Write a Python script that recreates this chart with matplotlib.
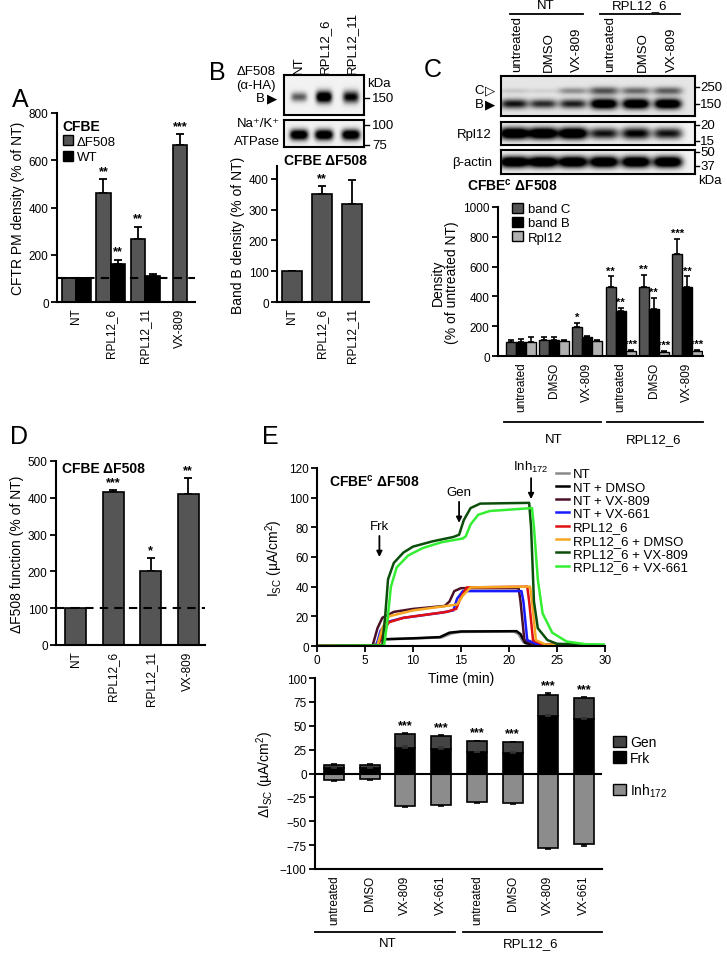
import matplotlib
matplotlib.use("Agg")
import matplotlib.pyplot as plt
import numpy as np
from matplotlib.patches import Patch
from matplotlib.lines import Line2D

plt.rcParams['font.family'] = ['Liberation Sans', 'DejaVu Sans']
plt.rcParams['mathtext.fontset'] = 'custom'
plt.rcParams['mathtext.rm'] = 'Liberation Sans'
plt.rcParams['mathtext.it'] = 'Liberation Sans:italic'
plt.rcParams['mathtext.bf'] = 'Liberation Sans:bold'

# ---------------- data ----------------
# panel A
a_groups = ['NT', 'RPL12_6', 'RPL12_11', 'VX-809']
a_df508 = [100, 460, 265, 665]
a_df508_err = [0, 60, 53, 45]
a_df508_sig = ['', '**', '**', '***']
a_wt = [100, 160, 110]
a_wt_err = [0, 18, 8]
a_wt_sig = ['', '**', '']

# panel B
b_lanes = ['NT', 'RPL12_6', 'RPL12_11']
b_vals = [100, 350, 320]
b_err = [0, 28, 75]
b_sig = ['', '**', '']
b_band_b = [0.6, 1.3, 1.0]
b_atpase = [1.3, 1.3, 1.3]

# panel C
c_lanes = ['untreated', 'DMSO', 'VX-809', 'untreated', 'DMSO', 'VX-809']
c_band_c = [95, 110, 195, 465, 465, 685]
c_band_c_err = [10, 15, 27, 70, 80, 100]
c_band_c_sig = ['', '', '*', '**', '**', '***']
c_band_b = [95, 105, 130, 300, 315, 465]
c_band_b_err = [20, 20, 5, 25, 75, 70]
c_band_b_sig = ['', '', '', '**', '**', '**']
c_rpl12 = [95, 100, 100, 35, 30, 35]
c_rpl12_err = [30, 5, 5, 5, 5, 5]
c_rpl12_sig = ['', '', '', '***', '***', '***']
c_blot_c = [0.12, 0.08, 0.35, 0.6, 0.5, 0.55]
c_blot_b = [0.85, 0.75, 0.8, 1.3, 1.3, 1.3]
c_blot_rpl = [1.4, 1.4, 1.4, 0.9, 1.0, 0.9]
c_blot_actin = [1.4, 1.4, 1.4, 1.4, 1.4, 1.4]

# panel D
d_groups = ['NT', 'RPL12_6', 'RPL12_11', 'VX-809']
d_vals = [100, 415, 202, 410]
d_err = [0, 7, 35, 45]
d_sig = ['', '***', '*', '**']

# panel E traces (time in min, Isc in uA/cm2)
e_names = ['NT', 'NT + DMSO', 'NT + VX-809', 'NT + VX-661', 'RPL12_6',
           'RPL12_6 + DMSO', 'RPL12_6 + VX-809', 'RPL12_6 + VX-661']
e_colors = ['#8a8a8a', '#000000', '#4a1028', '#1a1aff', '#e01010',
            '#f5a623', '#0b4d0b', '#33ee33']
nt_t = [0, 6.0, 6.4, 7, 10, 13, 14, 15, 20.5, 21.0, 21.5, 22.5, 30]
nt_y = [0, 0.3, 3.5, 4.5, 5, 5.8, 8.5, 9.5, 9.8, 8, 2.5, 0.5, 0.2]
ntd_t = [0, 6.2, 6.6, 7.2, 10, 12.8, 13.8, 15, 20.8, 21.2, 21.7, 23, 30]
ntd_y = [0, 0.3, 4, 4.6, 5.2, 6, 9, 9.8, 10, 8, 2, 0.5, 0.2]
nt809_t = [0, 5.8, 6.3, 6.8, 8, 10, 13.3, 13.8, 14.3, 15, 21.0, 21.2, 21.6, 22.5, 30]
nt809_y = [0, 0.5, 12, 19, 23, 25, 27, 30, 37, 39, 39, 30, 4, 1, 0.3]
nt661_t = [0, 6.2, 6.6, 7.2, 9, 13, 14.2, 14.6, 15.2, 21.3, 21.5, 21.9, 23, 30]
nt661_y = [0, 0.5, 10, 16, 19, 22.5, 24, 32, 37, 37, 30, 4, 1, 0.3]
rpl_t = [0, 6.4, 6.9, 7.5, 9, 13.5, 14.5, 15, 15.6, 21.9, 22.1, 22.5, 23.5, 30]
rpl_y = [0, 0.5, 10, 16, 19, 23, 25, 33, 39.5, 40, 30, 4, 1, 0.3]
rpld_t = [0, 6.3, 6.8, 7.5, 10, 13.5, 14.6, 15.2, 16, 22.2, 22.4, 22.8, 23.8, 30]
rpld_y = [0, 0.5, 12, 20, 24, 27, 28, 34, 39.5, 40, 30, 4, 1, 0.3]
rpl809_t = [0, 6.8, 7.1, 7.4, 8, 9, 10, 12, 14.2, 14.8, 15.3, 16, 17, 22.1, 22.3, 22.6, 23, 24, 25, 30]
rpl809_y = [0, 0.5, 20, 45, 56, 63, 67, 70.5, 73.5, 75, 85, 93, 96, 96.5, 80, 30, 12, 4, 1.5, 0.5]
rpl661_t = [0, 7.0, 7.3, 7.7, 8.3, 9.5, 11, 13, 15.2, 15.5, 16, 16.8, 18, 22.4, 22.6, 23, 23.5, 24.5, 26, 28, 30]
rpl661_y = [0, 0.3, 15, 40, 53, 61, 66, 70, 72.5, 74, 82, 88.5, 91, 93, 80, 45, 22, 9, 3, 1.2, 1]
e_traces = [(nt_t, nt_y), (ntd_t, ntd_y), (nt809_t, nt809_y), (nt661_t, nt661_y),
            (rpl_t, rpl_y), (rpld_t, rpld_y), (rpl809_t, rpl809_y), (rpl661_t, rpl661_y)]
e_events = ['Frk', 'Gen', 'Inh$_{172}$']
e_event_t = [6.5, 14.8, 22.3]
e_event_y = [60, 83, 99]

# panel E bars
e_groups = ['untreated', 'DMSO', 'VX-809', 'VX-661'] * 2
e_frk = [6, 6, 27, 26, 22, 21, 60, 57]
e_frk_err = [1, 1, 2, 2, 1, 1, 1, 1]
e_gen = [3, 3, 14, 13, 12, 12, 22, 22]
e_tot_err = [0.5, 0.5, 1, 1, 0.5, 0.5, 2, 1.5]
e_inh = [-7, -6, -34, -33, -30, -31, -78, -74]
e_inh_err = [1, 1, 1.5, 1.5, 0.5, 0.5, 1.5, 1.5]
e_sig = ['', '', '***', '***', '***', '***', '***', '***']

# ---------------- figure ----------------
W, H = 727, 954
fig = plt.figure(figsize=(W / 100, H / 100), dpi=100)

DARK = '#555555'
MID = '#8c8c8c'
LIGHT = '#b0b0b0'
TICK = 8.5


def ax_px(l, t, r, b):
    a = fig.add_axes([l / W, 1 - b / H, (r - l) / W, (b - t) / H])
    a.patch.set_visible(False)
    return a


def ft(x, y, s, **kw):
    kw.setdefault('ha', 'left')
    kw.setdefault('va', 'center')
    fig.text(x / W, 1 - y / H, s, **kw)


def style_bar_axes(ax):
    for s in ['top', 'right']:
        ax.spines[s].set_visible(False)
    for s in ['left', 'bottom']:
        ax.spines[s].set_linewidth(1.5)
    ax.tick_params(axis='y', direction='out', length=4, width=1.3, labelsize=TICK, pad=2)
    ax.tick_params(axis='x', length=0, labelsize=TICK, pad=4)


def stars(ax, x, top, s, size=9):
    if s:
        ax.text(x, top, s, ha='center', va='bottom', fontsize=size, fontweight='bold')


def draw_blot(ax, lanes, bands, bg=0.95):
    h, w = 60, 300
    yy, xx = np.mgrid[0:1:h * 1j, 0:1:w * 1j]
    img = np.full((h, w), bg)
    for yc, sy, ints, sx in bands:
        for x0, a in zip(lanes, ints):
            th = sy * (0.45 + 0.55 * min(a, 1.0))
            img -= a * np.exp(-((xx - x0) / sx) ** 4) * np.exp(-((yy - yc) / th) ** 2)
    ax.imshow(np.clip(img, 0, 1), cmap='gray', vmin=0, vmax=1,
              extent=[0, 1, 0, 1], aspect='auto', origin='upper', interpolation='bilinear')
    ax.set_xticks([])
    ax.set_yticks([])
    for s in ax.spines.values():
        s.set_linewidth(1.5)


# ---------- panel A ----------
ft(12, 100, 'A', fontsize=18)
ax = ax_px(57, 114, 195, 303)
style_bar_axes(ax)
xa = np.arange(len(a_groups))
bw = 0.42
xd = xa.astype(float)
xd[:3] -= bw / 2
ax.bar(xd, a_df508, bw, color=DARK, edgecolor='black', linewidth=1.2, zorder=2)
ax.errorbar(xd, a_df508, yerr=[np.zeros(4), a_df508_err], fmt='none', ecolor='black',
            elinewidth=1.3, capsize=3, capthick=1.3, zorder=1)
xw = xa[:3] + bw / 2
ax.bar(xw, a_wt, bw, color='black', edgecolor='black', linewidth=1.2, zorder=2)
ax.errorbar(xw, a_wt, yerr=[np.zeros(3), a_wt_err], fmt='none', ecolor='black',
            elinewidth=1.3, capsize=3, capthick=1.3, zorder=1)
for x, v, e, s in zip(xd, a_df508, a_df508_err, a_df508_sig):
    stars(ax, x, v + e + 10, s)
for x, v, e, s in zip(xw, a_wt, a_wt_err, a_wt_sig):
    stars(ax, x, v + e + 10, s)
ax.axhline(100, color='black', ls=(0, (4, 3)), lw=1.5, zorder=3)
ax.set_xlim(-0.55, 3.43)
ax.set_ylim(0, 800)
ax.set_yticks([0, 200, 400, 600, 800])
ax.set_xticks(xa)
ax.set_xticklabels(a_groups, rotation=90)
ax.set_ylabel('CFTR PM density (% of NT)', fontsize=10, labelpad=3)
leg = ax.legend(handles=[Patch(facecolor=DARK, edgecolor='black', label='\u0394F508'),
                         Patch(facecolor='black', edgecolor='black', label='WT')],
                title='CFBE', loc='upper left', bbox_to_anchor=(0.04, 0.97), frameon=False,
                fontsize=9.5, handlelength=0.8, handleheight=0.8, handletextpad=0.3,
                labelspacing=0.2, borderpad=0, borderaxespad=0)
leg.get_title().set_fontweight('bold')
leg.get_title().set_fontsize(10)
leg._legend_box.align = 'left'

# ---------- panel B ----------
ft(209, 73, 'B', fontsize=18)
bx1 = ax_px(284, 76, 364, 116)
lanes_b = [(299 - 284) / 80, (324 - 284) / 80, (351 - 284) / 80]
draw_blot(bx1, lanes_b, [(0.55, 0.15, b_band_b, 0.1)])
bx2 = ax_px(284, 121, 364, 148)
draw_blot(bx2, lanes_b, [(0.55, 0.2, b_atpase, 0.115)])
for lx, lab in zip([299, 325, 352], b_lanes):
    ft(lx, 74, lab, rotation=90, ha='center', va='bottom', fontsize=9.5)
ft(276, 72, '\u0394F508', ha='right', fontsize=9.5)
ft(276, 86, '(\u03b1-HA)', ha='right', fontsize=9.5)
ft(265, 99, 'B', ha='right', fontsize=9.5)
ft(267, 99, '\u25b6', ha='left', fontsize=9.5)
ft(280, 124, 'Na\u207a/K\u207a', ha='right', fontsize=9.5)
ft(280, 142, 'ATPase', ha='right', fontsize=9.5)
ft(367, 84, 'kDa', fontsize=9.5)
for yy_, lab in [(99, '150'), (126, '100'), (146, '75')]:
    ft(372, yy_, lab, fontsize=9.5)
    fig.add_artist(Line2D([364 / W, 369 / W], [1 - yy_ / H, 1 - yy_ / H], color='black', lw=1))
ax = ax_px(277, 167, 369, 303)
style_bar_axes(ax)
xb = np.arange(len(b_lanes))
ax.bar(xb, b_vals, 0.65, color=DARK, edgecolor='black', linewidth=1.2, zorder=2)
ax.errorbar(xb, b_vals, yerr=[np.zeros(3), b_err], fmt='none', ecolor='black',
            elinewidth=1.3, capsize=3, capthick=1.3, zorder=1)
for x, v, e, s in zip(xb, b_vals, b_err, b_sig):
    stars(ax, x, v + e + 5, s)
ax.set_xlim(-0.5, 2.57)
ax.set_ylim(0, 442)
ax.set_yticks([0, 100, 200, 300, 400])
ax.set_xticks(xb)
ax.set_xticklabels(b_lanes, rotation=90)
ax.set_ylabel('Band B density (% of NT)', fontsize=10, labelpad=3)
ft(325, 161, 'CFBE \u0394F508', ha='center', fontsize=10, fontweight='bold')

# ---------- panel C ----------
ft(424, 70, 'C', fontsize=18)
lanes_c = [(x - 501) / 194 for x in [514, 543, 573, 604, 636, 668]]
cx1 = ax_px(501, 77, 695, 117)
draw_blot(cx1, lanes_c, [(0.7, 0.13, c_blot_b, 0.07), (0.37, 0.13, c_blot_c, 0.075)], bg=0.9)
cx2 = ax_px(501, 123, 695, 146)
draw_blot(cx2, lanes_c, [(0.5, 0.26, c_blot_rpl, 0.075)])
cx3 = ax_px(501, 151, 695, 175)
draw_blot(cx3, lanes_c, [(0.5, 0.24, c_blot_actin, 0.075)])
for lx, lab in zip([517, 549, 577, 610, 643, 672], c_lanes):
    ft(lx, 72, lab, rotation=90, ha='center', va='bottom', fontsize=9.5)
fig.add_artist(Line2D([510 / W, 583 / W], [1 - 15 / H, 1 - 15 / H], color='black', lw=1.3))
fig.add_artist(Line2D([600 / W, 680 / W], [1 - 15 / H, 1 - 15 / H], color='black', lw=1.3))
ft(546, 6, 'NT', ha='center', fontsize=9.5)
ft(640, 6, 'RPL12_6', ha='center', fontsize=9.5)
ft(484, 91, 'C', ha='right', fontsize=9.5)
ft(485, 91, '\u25b7', fontsize=9.5)
ft(484, 105, 'B', ha='right', fontsize=9.5)
ft(485, 105, '\u25b6', fontsize=9.5)
ft(492, 135, 'Rpl12', ha='right', fontsize=9.5)
ft(492, 163, '\u03b2-actin', ha='right', fontsize=9.5)
for yy_, lab in [(88, '250'), (105, '150'), (126, '20'), (142, '15'), (153, '50'), (167, '37')]:
    ft(700, yy_, lab, fontsize=9.5)
    fig.add_artist(Line2D([695 / W, 699 / W], [1 - yy_ / H, 1 - yy_ / H], color='black', lw=1))
ft(698, 181, 'kDa', fontsize=9.5)
ft(467, 186, 'CFBE$^{\\bf c}$ \u0394F508', fontsize=10, fontweight='bold')

ax = ax_px(498, 208, 703, 357)
style_bar_axes(ax)
xc = np.arange(len(c_lanes))
cw = 0.3
series_c = [(c_band_c, c_band_c_err, c_band_c_sig, DARK, -cw),
            (c_band_b, c_band_b_err, c_band_b_sig, 'black', 0),
            (c_rpl12, c_rpl12_err, c_rpl12_sig, LIGHT, cw)]
for vals, errs, sigs, col, off in series_c:
    ax.bar(xc + off, vals, cw, color=col, edgecolor='black', linewidth=1.0, zorder=2)
    ax.errorbar(xc + off, vals, yerr=[np.zeros(6), errs], fmt='none', ecolor='black',
                elinewidth=1.2, capsize=2.5, capthick=1.2, zorder=1)
    for x, v, e, s in zip(xc + off, vals, errs, sigs):
        stars(ax, x, v + e + 5, s, size=8)
ax.set_xlim(-0.69, 5.48)
ax.set_ylim(0, 1000)
ax.set_yticks([0, 200, 400, 600, 800, 1000])
ax.set_xticks(xc)
ax.set_xticklabels(c_lanes, rotation=90)
ax.set_ylabel('Density\n(% of untreated NT)', fontsize=10, labelpad=3, linespacing=1.0)
ax.legend(handles=[Patch(facecolor=DARK, edgecolor='black', label='band C'),
                   Patch(facecolor='black', edgecolor='black', label='band B'),
                   Patch(facecolor=LIGHT, edgecolor='black', label='Rpl12')],
          loc='upper left', bbox_to_anchor=(0.07, 1.03), frameon=False, fontsize=9.5,
          handlelength=0.8, handleheight=0.8, handletextpad=0.4, labelspacing=0.12,
          borderpad=0, borderaxespad=0)
tr = ax.get_xaxis_transform()
ax.plot([-0.5, 2.4], [-0.44, -0.44], color='black', lw=1.3, transform=tr, clip_on=False)
ax.plot([2.6, 5.48], [-0.44, -0.44], color='black', lw=1.3, transform=tr, clip_on=False)
ax.text(1.0, -0.52, 'NT', transform=tr, ha='center', va='top', fontsize=9.5)
ax.text(4.0, -0.52, 'RPL12_6', transform=tr, ha='center', va='top', fontsize=9.5)

# ---------- panel D ----------
ft(10, 437, 'D', fontsize=18)
ax = ax_px(56, 462, 205, 646)
style_bar_axes(ax)
xdd = np.arange(len(d_groups))
ax.bar(xdd, d_vals, 0.56, color=DARK, edgecolor='black', linewidth=1.2, zorder=2)
ax.errorbar(xdd, d_vals, yerr=[np.zeros(4), d_err], fmt='none', ecolor='black',
            elinewidth=1.3, capsize=3, capthick=1.3, zorder=1)
for x, v, e, s in zip(xdd, d_vals, d_err, d_sig):
    stars(ax, x, v + e + 5, s)
ax.axhline(100, color='black', ls=(0, (4, 3)), lw=1.5, zorder=3)
ax.set_xlim(-0.52, 3.45)
ax.set_ylim(0, 500)
ax.set_yticks([0, 100, 200, 300, 400, 500])
ax.set_xticks(xdd)
ax.set_xticklabels(d_groups, rotation=90)
ax.set_ylabel('\u0394F508 function (% of NT)', fontsize=10, labelpad=3)
ft(62, 469, 'CFBE \u0394F508', fontsize=10, fontweight='bold')

# ---------- panel E (traces) ----------
ft(262, 437, 'E', fontsize=18)
ax = ax_px(317, 469, 605, 647)
for s in ['top', 'right']:
    ax.spines[s].set_visible(False)
for s in ['left', 'bottom']:
    ax.spines[s].set_linewidth(1.5)
ax.tick_params(direction='out', length=4, width=1.3, labelsize=TICK, pad=2)
for (tt, yv), col, name in zip(e_traces, e_colors, e_names):
    ax.plot(tt, yv, color=col, lw=1.8, label=name)
for name, t, yv in zip(e_events, e_event_t, e_event_y):
    ax.annotate(name, xy=(t, yv), xytext=(t, yv + 17), ha='center', va='bottom', fontsize=9.5,
                annotation_clip=False,
                arrowprops=dict(arrowstyle='-|>', color='black', lw=1.3, mutation_scale=8,
                                shrinkA=1, shrinkB=0))
ax.set_xlim(0, 30)
ax.set_ylim(0, 120)
ax.set_xticks(range(0, 31, 5))
ax.set_yticks(range(0, 121, 20))
ax.set_xlabel('Time (min)', fontsize=10, labelpad=3)
ax.set_ylabel('I$_{\\rm SC}$ (\u00b5A/cm$^2$)', fontsize=10, labelpad=3)
ax.text(0.04, 0.93, 'CFBE$^{\\bf c}$ \u0394F508', transform=ax.transAxes, fontsize=10,
        fontweight='bold', va='center')
ax.legend(loc='upper left', bbox_to_anchor=(0.83, 1.0), frameon=False, fontsize=9.5,
          handlelength=1.0, handletextpad=0.3, labelspacing=0.08, borderpad=0,
          borderaxespad=0)

# ---------- panel E (bars) ----------
ax = ax_px(315, 679, 602, 870)
style_bar_axes(ax)
xe = np.arange(len(e_groups))
ew = 0.56
tot = np.array(e_frk) + np.array(e_gen)
ax.bar(xe, e_frk, ew, color='black', edgecolor='black', linewidth=1.2, zorder=2)
ax.bar(xe, e_gen, ew, bottom=e_frk, color='#444444', edgecolor='black', linewidth=1.2, zorder=2)
ax.bar(xe, e_inh, ew, color=MID, edgecolor='black', linewidth=1.2, zorder=2)
ax.errorbar(xe, e_frk, yerr=[np.zeros(8), e_frk_err], fmt='none', ecolor='#333333',
            elinewidth=1.2, capsize=2.5, capthick=1.2, zorder=3)
ax.errorbar(xe, tot, yerr=[np.zeros(8), e_tot_err], fmt='none', ecolor='black',
            elinewidth=1.2, capsize=2.5, capthick=1.2, zorder=1)
ax.errorbar(xe, e_inh, yerr=[e_inh_err, np.zeros(8)], fmt='none', ecolor='black',
            elinewidth=1.2, capsize=2.5, capthick=1.2, zorder=1)
for x, v, e, s in zip(xe, tot, e_tot_err, e_sig):
    stars(ax, x, v + e + 2, s)
ax.axhline(0, color='black', lw=1.5, zorder=4)
ax.set_xlim(-0.53, 7.5)
ax.set_ylim(-100, 100)
ax.set_yticks(range(-100, 101, 25))
ax.set_xticks(xe)
ax.set_xticklabels(e_groups, rotation=90)
ax.set_ylabel('\u0394I$_{\\rm SC}$ (\u00b5A/cm$^2$)', fontsize=10, labelpad=3)
leg = ax.legend(handles=[Patch(facecolor='#444444', edgecolor='black', label='Gen'),
                         Patch(facecolor='black', edgecolor='black', label='Frk'),
                         Patch(facecolor='none', edgecolor='none', label=' '),
                         Patch(facecolor=MID, edgecolor='black', label='Inh$_{172}$')],
                loc='upper left', bbox_to_anchor=(1.04, 0.7), frameon=False, fontsize=10,
                handlelength=0.9, handleheight=0.9, handletextpad=0.3, labelspacing=0.1,
                borderpad=0, borderaxespad=0)
tr = ax.get_xaxis_transform()
ax.plot([-0.53, 3.4], [-0.33, -0.33], color='black', lw=1.3, transform=tr, clip_on=False)
ax.plot([3.6, 7.5], [-0.33, -0.33], color='black', lw=1.3, transform=tr, clip_on=False)
ax.text(1.5, -0.355, 'NT', transform=tr, ha='center', va='top', fontsize=9.5)
ax.text(5.5, -0.355, 'RPL12_6', transform=tr, ha='center', va='top', fontsize=9.5)

fig.savefig('out.png', dpi=100)
